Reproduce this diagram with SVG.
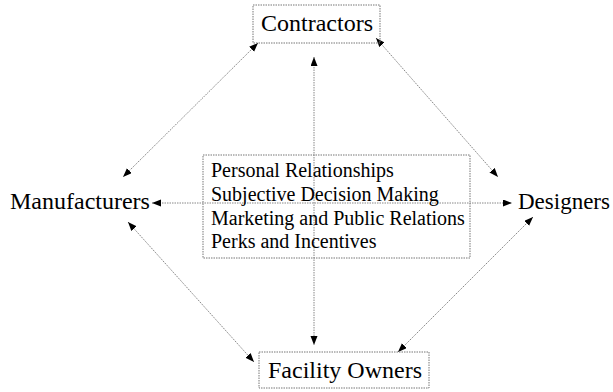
<svg xmlns="http://www.w3.org/2000/svg" width="613" height="392" viewBox="0 0 613 392">
<style>
.lbl{font-family:'Liberation Serif','Times New Roman',Times,'DejaVu Serif',serif;font-size:24px;fill:#000}
.item{font-family:'Liberation Serif','Times New Roman',Times,'DejaVu Serif',serif;font-size:20px;fill:#000}
.box{fill:none;stroke:#777;stroke-width:1;stroke-dasharray:1.5,1}
.conn{stroke:#888;stroke-width:1;stroke-dasharray:1.5,1;fill:none;marker-start:url(#ah);marker-end:url(#ah)}
</style>
<defs>
<marker id="ah" markerUnits="userSpaceOnUse" markerWidth="10" markerHeight="8" refX="9" refY="3.5" orient="auto-start-reverse">
<path d="M0,0 L9,3.5 L0,7 z" fill="#000"/>
</marker>
</defs>
<rect width="613" height="392" fill="#fff"/>
<g id="connectors">
<line class="conn" x1="314" y1="57" x2="314" y2="345"/>
<line class="conn" x1="152" y1="203" x2="512" y2="203"/>
<line class="conn" x1="258" y1="43" x2="123" y2="177"/>
<line class="conn" x1="376" y1="38" x2="498" y2="177"/>
<line class="conn" x1="128" y1="222" x2="254" y2="362"/>
<line class="conn" x1="533" y1="217" x2="398" y2="352"/>
</g>
<g id="contractors">
<rect class="box" x="253" y="5" width="127" height="38"/>
<text class="lbl" x="317" y="31" text-anchor="middle">Contractors</text>
</g>
<g id="center">
<rect class="box" x="203" y="155" width="267" height="103"/>
<text class="item" x="211" y="177">Personal Relationships</text>
<text class="item" x="211" y="201">Subjective Decision Making</text>
<text class="item" x="211" y="225">Marketing and Public Relations</text>
<text class="item" x="211" y="248">Perks and Incentives</text>
</g>
<g id="manufacturers">
<text class="lbl" x="10" y="209">Manufacturers</text>
</g>
<g id="designers">
<text class="lbl" x="518" y="209" style="font-size:23px">Designers</text>
</g>
<g id="facility">
<rect class="box" x="259" y="352" width="170" height="36"/>
<text class="lbl" x="268" y="378">Facility Owners</text>
</g>
</svg>
